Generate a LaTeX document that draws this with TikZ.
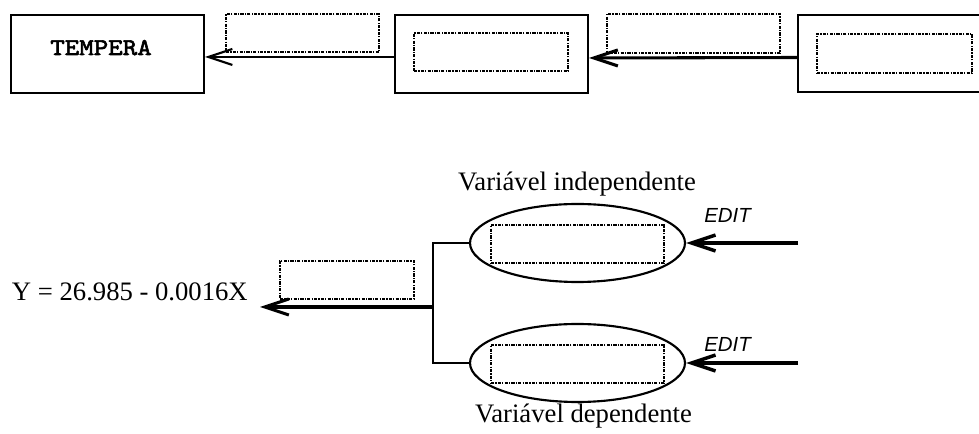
\documentclass[tikz,border=0pt]{standalone}
\usepackage{fontspec}
\setmainfont{Liberation Serif}
\newfontfamily\editfont{Liberation Sans}
\newfontfamily\monobold{lmmono10-regular.otf}[FakeBold=2.5,FakeStretch=1.15]
\usetikzlibrary{arrows.meta,shapes.geometric}
\begin{document}
\begin{tikzpicture}[x=0.75pt,y=-0.75pt,
  frame/.style={draw,line width=1.5pt,inner sep=0pt,minimum width=144.75pt,minimum height=58.5pt},
  slot/.style={draw,line width=1.4pt,dash pattern=on 2.4pt off 0.9pt on 0.9pt off 0.9pt,
    inner sep=0pt,minimum height=28.5pt},
  oval/.style={draw,ellipse,line width=1.6pt,inner sep=0pt,minimum width=161.25pt,minimum height=58.5pt},
  barb/.style={-{Straight Barb[length=18pt,width=12pt]}},
  serif/.style={font=\fontsize{20}{24}\selectfont,inner sep=0pt},
  edit/.style={font=\editfont\itshape\fontsize{15.3}{18}\selectfont,inner sep=0pt,anchor=base west},
]
\fill[white] (0,0) rectangle (979,434);
\useasboundingbox (0,0) rectangle (979,434);
\clip (0,0) rectangle (979,434);

% upper chain of boxes
\node[frame] (b1) at (107.5,54) {};
\node[font=\monobold\fontsize{18}{20}\selectfont,inner sep=0pt,anchor=base] (t1) at (101,55) {TEMPERA};
\node[frame] (b2) at (491.5,54) {};
\node[slot,minimum width=115.5pt] (s2) at (491,52) {};
\node[frame,minimum height=57.75pt] (b3) at (894.5,53.5) {};
\node[slot,minimum width=116.25pt,minimum height=29.25pt] (s3) at (894.5,53.5) {};
\node[slot,minimum width=114.75pt] (l1) at (302.5,33) {};
\node[slot,minimum width=129.75pt,minimum height=29.25pt] (l2) at (693.5,33.5) {};
\draw[barb,line width=1.6pt] ([yshift=-2.25pt]b2.west) -- ([yshift=-2.25pt]b1.east);
\draw[barb,line width=2.3pt] ([yshift=-3pt]b3.west) -- ([yshift=-3pt]b2.east);

% regression part
\node[oval] (e1) at (577.5,243) {};
\node[oval] (e2) at (577.5,363) {};
\node[slot,minimum width=129.75pt] (i1) at (577.5,244) {};
\node[slot,minimum width=129.75pt] (i2) at (577.5,364) {};
\node[serif,anchor=base] (v1) at (577,191) {Variável independente};
\node[serif,anchor=base] (v2) at (583.5,423) {Variável dependente};
\node[edit] (d1) at (704,223) {EDIT};
\node[edit] (d2) at (704,352) {EDIT};
\coordinate (r1) at (798,243);
\coordinate (r2) at (798,363);
\draw[barb,line width=2.6pt] (r1) -- (e1.east);
\draw[barb,line width=2.6pt] (r2) -- (e2.east);
\coordinate (jn) at (433,307);
\draw[line width=1.6pt] (e1.west) -| (jn) |- (e2.west);
\node[slot,minimum width=100.5pt] (l3) at (347,280) {};
\node[serif,anchor=base east] (eq) at (248,301) {Y = 26.985 - 0.0016X};
\draw[barb,line width=2.3pt] (jn) -- ([xshift=9pt]eq.east |- jn);
\end{tikzpicture}
\end{document}
